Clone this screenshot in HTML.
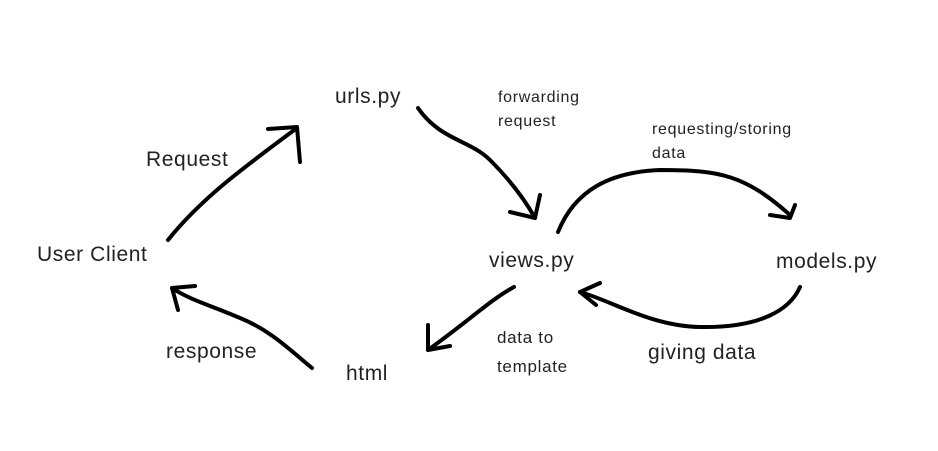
<!DOCTYPE html>
<html><head><style>
body{margin:0;background:#fff;width:938px;height:451px;overflow:hidden;position:relative;font-family:"Liberation Sans",sans-serif;color:#222}
.t{position:absolute;white-space:nowrap;line-height:1}
.b{font-size:21px;letter-spacing:0.6px}.s{font-size:16px;letter-spacing:0.7px}
svg{position:absolute;left:0;top:0}
</style></head><body>
<svg width="938" height="451" fill="none" stroke="#000" stroke-width="4" stroke-linecap="round" stroke-linejoin="round">
<path d="M168 240 C200 200 240 170 297 128"/><path d="M268 129 L297 127 L300 162"/>
<path d="M418 108 C440 140 470 140 490 160 C510 180 525 200 535 218"/><path d="M510 212 L535 218 L540 195"/>
<path d="M558 232 C575 190 610 172 660 170 C720 170 745 175 790 215"/><path d="M770 215 L790 218 L795 205"/>
<path d="M800 287 C790 310 760 328 700 327 C650 326 610 300 580 292"/><path d="M600 283 L580 292 L596 305"/>
<path d="M514 287 C490 300 470 320 428 350"/><path d="M428 325 L428 350 L450 346"/>
<path d="M312 368 C290 350 270 330 240 318 C210 305 190 300 172 288"/><path d="M195 286 L172 288 L178 310"/>
</svg>
<div class="t b" style="left:335px;top:86px">urls.py</div>
<div class="t s" style="left:498px;top:90px">forwarding</div>
<div class="t s" style="left:498px;top:114px">request</div>
<div class="t s" style="left:652px;top:122px">requesting/storing</div>
<div class="t s" style="left:652px;top:146px">data</div>
<div class="t b" style="left:146px;top:149px">Request</div>
<div class="t b" style="left:37px;top:244px">User Client</div>
<div class="t b" style="left:489px;top:250px">views.py</div>
<div class="t b" style="left:776px;top:251px">models.py</div>
<div class="t b" style="left:166px;top:341px">response</div>
<div class="t b" style="left:346px;top:363px">html</div>
<div class="t s" style="left:497px;top:329px;font-size:17px">data to</div>
<div class="t s" style="left:497px;top:358px;font-size:17px">template</div>
<div class="t b" style="left:648px;top:342px">giving data</div>
</body></html>
